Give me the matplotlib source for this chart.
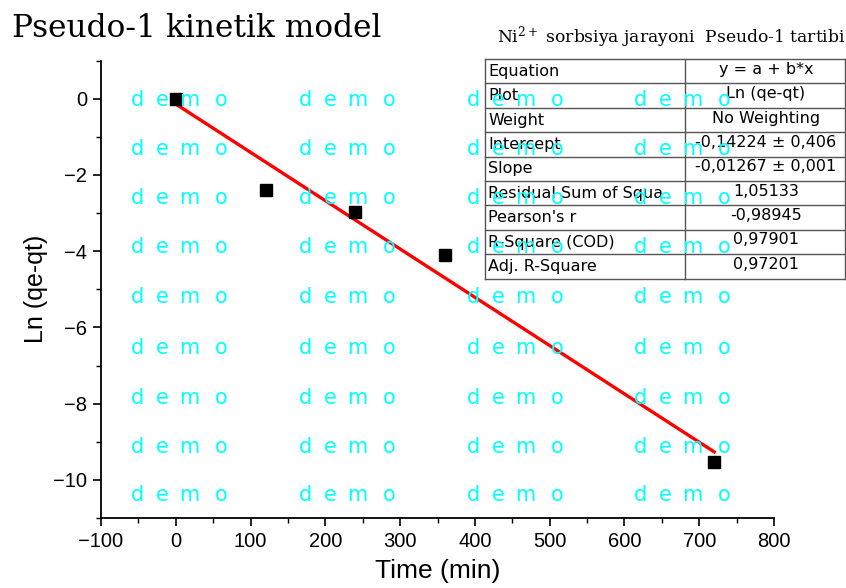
import matplotlib
matplotlib.use("Agg")
import matplotlib.pyplot as plt
from matplotlib.ticker import MultipleLocator
from matplotlib.lines import Line2D
import numpy as np

time_min = [0, 120, 240, 360, 720]
ln_qe_qt = [0.0, -2.39, -2.97, -4.09, -9.53]
intercept = -0.14224
slope = -0.01267
fit_x = [0, 720]

table_rows = [
    ("Equation", "y = a + b*x"),
    ("Plot", "Ln (qe-qt)"),
    ("Weight", "No Weighting"),
    ("Intercept", "-0,14224 ± 0,406"),
    ("Slope", "-0,01267 ± 0,001"),
    ("Residual Sum of Squa", "1,05133"),
    ("Pearson's r", "-0,98945"),
    ("R-Square (COD)", "0,97901"),
    ("Adj. R-Square", "0,97201"),
]

W, H = 846, 588
fig = plt.figure(figsize=(W / 100, H / 100), dpi=100)
ax = fig.add_axes([101 / W, 1 - 518 / H, (774 - 101) / W, (518 - 60.5) / H])

sans = ["Liberation Sans", "DejaVu Sans"]
wide_sans = ["DejaVu Sans"]
serif = ["DejaVu Serif", "Liberation Serif"]

fx = np.array(fit_x, dtype=float)
ax.plot(fx, intercept + slope * fx, color="red", lw=2.4, zorder=3)
ax.plot(time_min, ln_qe_qt, ls="none", marker="s", ms=8.5, color="black", zorder=4)

ax.set_xlim(-100, 800)
ax.set_ylim(-11, 1)
ax.xaxis.set_major_locator(MultipleLocator(100))
ax.xaxis.set_minor_locator(MultipleLocator(50))
ax.yaxis.set_major_locator(MultipleLocator(2))
ax.yaxis.set_minor_locator(MultipleLocator(1))
for s in ["top", "right"]:
    ax.spines[s].set_visible(False)
for s in ["left", "bottom"]:
    ax.spines[s].set_linewidth(1.3)
ax.tick_params(which="major", direction="out", length=6, width=1.2, labelsize=14.5, pad=4)
ax.tick_params(which="minor", direction="out", length=3.5, width=1.0)
for lab in ax.get_xticklabels() + ax.get_yticklabels():
    lab.set_family(sans)
ax.set_xlabel("Time (min)", fontsize=19, family=sans, labelpad=6)
ax.set_ylabel("Ln (qe-qt)", fontsize=18, family=sans, labelpad=4)

# Title and subtitle
fig.text(12 / W, 1 - 37 / H, "Pseudo-1 kinetik model", fontsize=22.5, family=serif,
         ha="left", va="baseline")
fig.text(497 / W, 1 - 42 / H, r"Ni$^{2+}$ sorbsiya jarayoni  Pseudo-1 tartibi",
         fontsize=12.3, family=serif, ha="left", va="baseline",
         math_fontfamily="dejavuserif")

# Stats table (figure pixel coordinates)
tx0, tx1, tsplit = 485, 845, 685
ty0 = 59
rh = 24.4
lines = []
for i in range(len(table_rows) + 1):
    y = ty0 + i * rh
    lines.append(Line2D([tx0 / W, tx1 / W], [1 - y / H, 1 - y / H]))
ybot = ty0 + len(table_rows) * rh
for x in (tx0, tsplit, tx1):
    lines.append(Line2D([x / W, x / W], [1 - ty0 / H, 1 - ybot / H]))
for ln in lines:
    ln.set_color("#555555")
    ln.set_linewidth(1.0)
    ln.set_zorder(5)
    fig.add_artist(ln)
for i, (k, v) in enumerate(table_rows):
    yc = ty0 + (i + 0.5) * rh
    fig.text((tx0 + 3) / W, 1 - yc / H, k, fontsize=11.5, family=wide_sans,
             ha="left", va="center", zorder=6)
    fig.text(((tsplit + tx1) / 2 + 1) / W, 1 - (yc - 2) / H, v, fontsize=11.5,
             family=wide_sans, ha="center", va="center", zorder=6)

# Watermark
wm_x = [131, 299, 467, 634]
wm_y = [99, 148, 197, 246, 296, 347, 397, 446, 494]
letters = ["d", "e", "m", "o"]
offsets = [0, 25, 48, 84]
for yy in wm_y:
    for xx in wm_x:
        for ch, off in zip(letters, offsets):
            fig.text((xx + off) / W, 1 - (yy + 1) / H, ch, fontsize=15, family=wide_sans,
                     color="cyan", ha="left", va="center", zorder=10)

fig.savefig("out.png", dpi=100)
